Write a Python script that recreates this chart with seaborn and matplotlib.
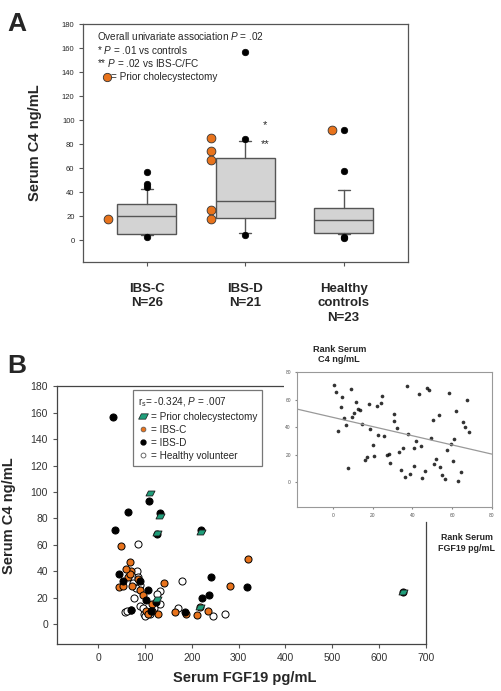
import numpy as np
import matplotlib
matplotlib.use('Agg')
import matplotlib.pyplot as plt
from matplotlib.lines import Line2D
from matplotlib.path import Path
import seaborn as sns

# ---- panel A: box statistics ----
a_groups = ['IBS-C\nN=26', 'IBS-D\nN=21', 'Healthy\ncontrols\nN=23']
a_q1 = [5.5, 18.5, 6]
a_med = [20.5, 33, 16.5]
a_q3 = [30.5, 68.5, 27]
a_whislo = [4, 6, 5]
a_whishi = [43, 83, 42]
# outliers (black) and prior cholecystectomy (orange), by group index
a_out_grp = [0, 0, 0, 0, 1, 1, 1, 2, 2, 2, 2]
a_out_val = [57, 47, 44, 3, 157, 84, 4, 92, 58, 3, 2]
a_chole_grp = [0, 1, 1, 1, 1, 1, 2]
a_chole_val = [18, 85, 74, 67, 25, 18, 92]

# ---- panel B: FGF19 vs C4 ----
d_x = [31, 108, 63, 132, 35, 126, 219, 45, 52, 90, 107, 240, 317, 103, 124,
       222, 237, 185, 71, 112, 650]
d_y = [157, 93, 85, 84, 71, 68, 71, 38, 33, 33, 26, 36, 28, 18, 17,
       20, 22, 9, 11, 10, 24]
c_x = [49, 321, 68, 71, 64, 44, 53, 73, 90, 141, 282, 114, 218, 234, 165,
       188, 210, 102, 106, 127, 115, 69, 60, 84, 95]
c_y = [59, 49, 47, 40, 36, 28, 29, 29, 26, 31, 29, 15, 13, 10, 9.5,
       7.5, 7, 10, 7.5, 7.5, 10, 38, 42, 34, 22]
h_x = [85, 82, 89, 80, 76, 179, 132, 126, 133, 171, 246, 270, 57, 71, 90,
       97, 62, 95, 120, 100, 86, 75, 110]
h_y = [61, 40, 30, 27, 20, 33, 25, 23, 15.5, 12, 6, 7.5, 9, 11, 14,
       8, 10, 12, 12, 6, 36, 31, 8]
p_x = [110, 131, 126, 219, 126, 218, 652]
p_y = [99, 82, 69, 70, 19, 13, 24]

# ---- inset: ranks ----
r_x = [0.7, 1.7, 4.6, 3.9, 8.9, 5.4, 6.5, 2.7, 7.7, 9.7, 10.8, 11.7, 12.8, 13.8,
       14.8, 17.9, 18.7, 19.9, 20.8, 16, 16.9, 22, 24, 24.9, 22.8, 25.9, 27, 28.1,
       28.9, 30.5, 30.5, 32, 33, 35.1, 34, 36, 37.1, 38, 39, 40.6, 40.9, 42, 43.1,
       44.1, 45, 46.1, 47.2, 48.2, 49.2, 50.2, 51, 52, 53.3, 54.1, 55.1, 56.2, 57.2,
       58.2, 59.2, 60.3, 61.1, 62.1, 63.1, 64.2, 65.3, 66.2, 67.2, 68.3]
r_y = [70.7, 65.6, 61.5, 54.4, 67.6, 46.3, 41.5, 37.3, 10, 47.3, 50.5, 58.5, 53.4, 52.7,
       42.4, 56.6, 38.3, 27.3, 19.3, 16.3, 18, 55.6, 57.6, 62.7, 34.4, 33.2, 20, 20.7,
       13.9, 49.5, 44.4, 39.3, 22, 25.1, 9, 4.1, 69.8, 35.1, 6.1, 24.6, 12, 30.2, 63.7,
       26.1, 3.2, 8, 68.5, 66.6, 32.2, 45.4, 13.2, 17.1, 48.5, 11, 4.9, 2, 23.4,
       64.6, 28, 15.1, 31.5, 51.5, 0.7, 7.1, 43.4, 40.2, 59.5, 36.3]

ORANGE = '#e8731c'
GREEN = '#1f9e7a'
EDGE = '#555555'

sns.set_style('white')
plt.rcParams['font.family'] = ['Liberation Sans', 'DejaVu Sans']
plt.rcParams['mathtext.fontset'] = 'custom'
plt.rcParams['mathtext.rm'] = 'Liberation Sans'
plt.rcParams['mathtext.it'] = 'Liberation Sans:italic'

fig = plt.figure(figsize=(5.02, 6.91), dpi=100)

# ================= panel A =================
axA = fig.add_axes([0.165, 0.621, 0.647, 0.344])
stats = []
for i in range(3):
    stats.append(dict(q1=a_q1[i], med=a_med[i], q3=a_q3[i],
                      whislo=a_whislo[i], whishi=a_whishi[i], fliers=[]))
axA.bxp(stats, positions=[0, 1, 2], widths=0.6, capwidths=0.12,
        patch_artist=True, showfliers=False,
        boxprops=dict(facecolor='#d3d3d3', edgecolor=EDGE, lw=1),
        medianprops=dict(color=EDGE, lw=1),
        whiskerprops=dict(color=EDGE, lw=1), capprops=dict(color=EDGE, lw=1))

# sideways shift of the orange points, per group
offsets = [-0.39, -0.35, -0.12]
sns.scatterplot(x=np.array(a_out_grp, float), y=a_out_val, ax=axA, color='black',
                s=22, edgecolor='black', linewidth=0.5, zorder=5)
sns.scatterplot(x=[g + offsets[g] for g in a_chole_grp], y=a_chole_val, ax=axA,
                color=ORANGE, s=40, edgecolor='#333333', linewidth=0.6, zorder=5)

axA.set_xlim(-0.65, 2.65)
axA.set_ylim(-18, 180)
axA.set_yticks(range(0, 181, 20))
axA.set_xticks([0, 1, 2])
axA.set_xticklabels(a_groups, fontsize=9.5, fontweight='bold', linespacing=1.3)
axA.tick_params(axis='x', length=3, pad=12, color=EDGE)
axA.tick_params(axis='y', length=3, labelsize=5.5, color=EDGE, pad=3)
axA.tick_params(left=True, bottom=True)
for sp in axA.spines.values():
    sp.set_color(EDGE)
    sp.set_linewidth(0.9)
axA.set_ylabel('Serum C4 ng/mL', fontsize=10.5, fontweight='bold')
axA.yaxis.set_label_coords(-0.126, 0.5)
axA.set_xlabel('')

axA.text(0.043, 0.951, r'Overall univariate association $\it{P}$ = .02', transform=axA.transAxes,
         fontsize=7.2, va='center')
axA.text(0.043, 0.892, r'* $\it{P}$ = .01 vs controls', transform=axA.transAxes,
         fontsize=7.2, va='center')
axA.text(0.043, 0.837, r'** $\it{P}$ = .02 vs IBS-C/FC', transform=axA.transAxes,
         fontsize=7.2, va='center')
axA.scatter([0.073], [0.778], transform=axA.transAxes, s=36, color=ORANGE,
            edgecolor='#333333', linewidth=0.6, clip_on=False)
axA.text(0.088, 0.778, '= Prior cholecystectomy', transform=axA.transAxes,
         fontsize=7.2, va='center')
axA.text(1.2, 96, '*', fontsize=8, ha='center', va='center')
axA.text(1.2, 80, '**', fontsize=8, ha='center', va='center')

fig.text(0.014, 0.982, 'A', fontsize=19, fontweight='bold', va='top')

# ================= panel B =================
axB = fig.add_axes([0.1135, 0.068, 0.735, 0.373])
para = Path([(-1.0, -0.55), (0.45, -0.55), (1.0, 0.55), (-0.45, 0.55), (-1.0, -0.55)],
            [Path.MOVETO, Path.LINETO, Path.LINETO, Path.LINETO, Path.CLOSEPOLY])

sns.scatterplot(x=h_x, y=h_y, ax=axB, color='white', s=26, edgecolor='black',
                linewidth=0.7, zorder=3)
sns.scatterplot(x=c_x, y=c_y, ax=axB, color=ORANGE, s=26, edgecolor='black',
                linewidth=0.7, zorder=4)
sns.scatterplot(x=d_x, y=d_y, ax=axB, color='black', s=26, edgecolor='black',
                linewidth=0.7, zorder=5)
sns.scatterplot(x=p_x, y=p_y, ax=axB, color=GREEN, marker=para, s=42,
                edgecolor='#1a1a1a', linewidth=0.6, zorder=6)

axB.set_xlim(-88, 700)
axB.set_ylim(-15, 180)
axB.set_xticks(range(0, 701, 100))
axB.set_yticks(range(0, 181, 20))
axB.tick_params(axis='both', length=3, labelsize=7.5, color=EDGE, labelcolor='#333333')
axB.tick_params(left=True, bottom=True)
for sp in axB.spines.values():
    sp.set_color('#444444')
    sp.set_linewidth(0.9)
axB.spines['top'].set_bounds(-88, 396)
axB.spines['right'].set_bounds(-15, 77)
axB.set_xlabel('Serum FGF19 pg/mL', fontsize=10.5, fontweight='bold')
axB.xaxis.set_label_coords(0.51, -0.105)
axB.set_ylabel('Serum C4 ng/mL', fontsize=10.5, fontweight='bold')
axB.yaxis.set_label_coords(-0.111, 0.5)

handles = [
    Line2D([], [], ls='', marker=para, markersize=7, markerfacecolor=GREEN,
           markeredgecolor='#1a1a1a', markeredgewidth=0.5),
    Line2D([], [], ls='', marker='o', markersize=3.5, markerfacecolor=ORANGE,
           markeredgecolor='#555555', markeredgewidth=0.5),
    Line2D([], [], ls='', marker='o', markersize=3.5, markerfacecolor='black',
           markeredgecolor='black'),
    Line2D([], [], ls='', marker='o', markersize=3.5, markerfacecolor='white',
           markeredgecolor='#555555', markeredgewidth=0.6),
]
labels = ['= Prior cholecystectomy', '= IBS-C', '= IBS-D', '= Healthy volunteer']
leg = axB.legend(handles, labels, title=r'r$_\mathregular{s}$= -0.324, $\it{P}$ = .007',
                 loc='upper left', bbox_to_anchor=(0.206, 0.984), fontsize=7.2,
                 title_fontsize=7.2, frameon=True, fancybox=False, edgecolor='#555555',
                 handlelength=1.0, handletextpad=0.3, labelspacing=0.3,
                 borderpad=0.5, borderaxespad=0)
leg._legend_box.align = 'left'
leg.get_frame().set_linewidth(0.9)

axB.text(1.11, 0.43, 'Rank Serum\nFGF19 pg/mL', transform=axB.transAxes, fontsize=6.4,
         fontweight='bold', ha='center', va='top', linespacing=1.2)

fig.text(0.015, 0.487, 'B', fontsize=19, fontweight='bold', va='top')

# ================= inset =================
# white backing so the inset hides the main frame behind it
fig.patches.append(plt.Rectangle((0.565, 0.255), 0.43, 0.25, transform=fig.transFigure,
                                 facecolor='white', edgecolor='none', zorder=2))
axI = fig.add_axes([0.592, 0.2663, 0.388, 0.1954], zorder=3)
axI.set_xlim(-18, 80)
axI.set_ylim(-18, 80)
sns.regplot(x=r_x, y=r_y, ax=axI, ci=None, truncate=False,
            scatter_kws=dict(color='black', s=7, linewidths=0),
            line_kws=dict(color='#999999', lw=0.9))
axI.set_xlim(-18, 80)
axI.set_ylim(-18, 80)
axI.set_xticks(range(0, 81, 20))
axI.set_yticks(range(0, 81, 20))
axI.tick_params(axis='both', length=1.5, labelsize=3.5, color='#888888',
                labelcolor='#555555', pad=3)
axI.tick_params(left=True, bottom=True)
for sp in axI.spines.values():
    sp.set_color('#999999')
    sp.set_linewidth(0.8)
fig.text(0.676, 0.501, 'Rank Serum\nC4 ng/mL', fontsize=6.6, fontweight='bold',
         ha='center', va='top', linespacing=1.2)

fig.savefig('out.png', dpi=100)
